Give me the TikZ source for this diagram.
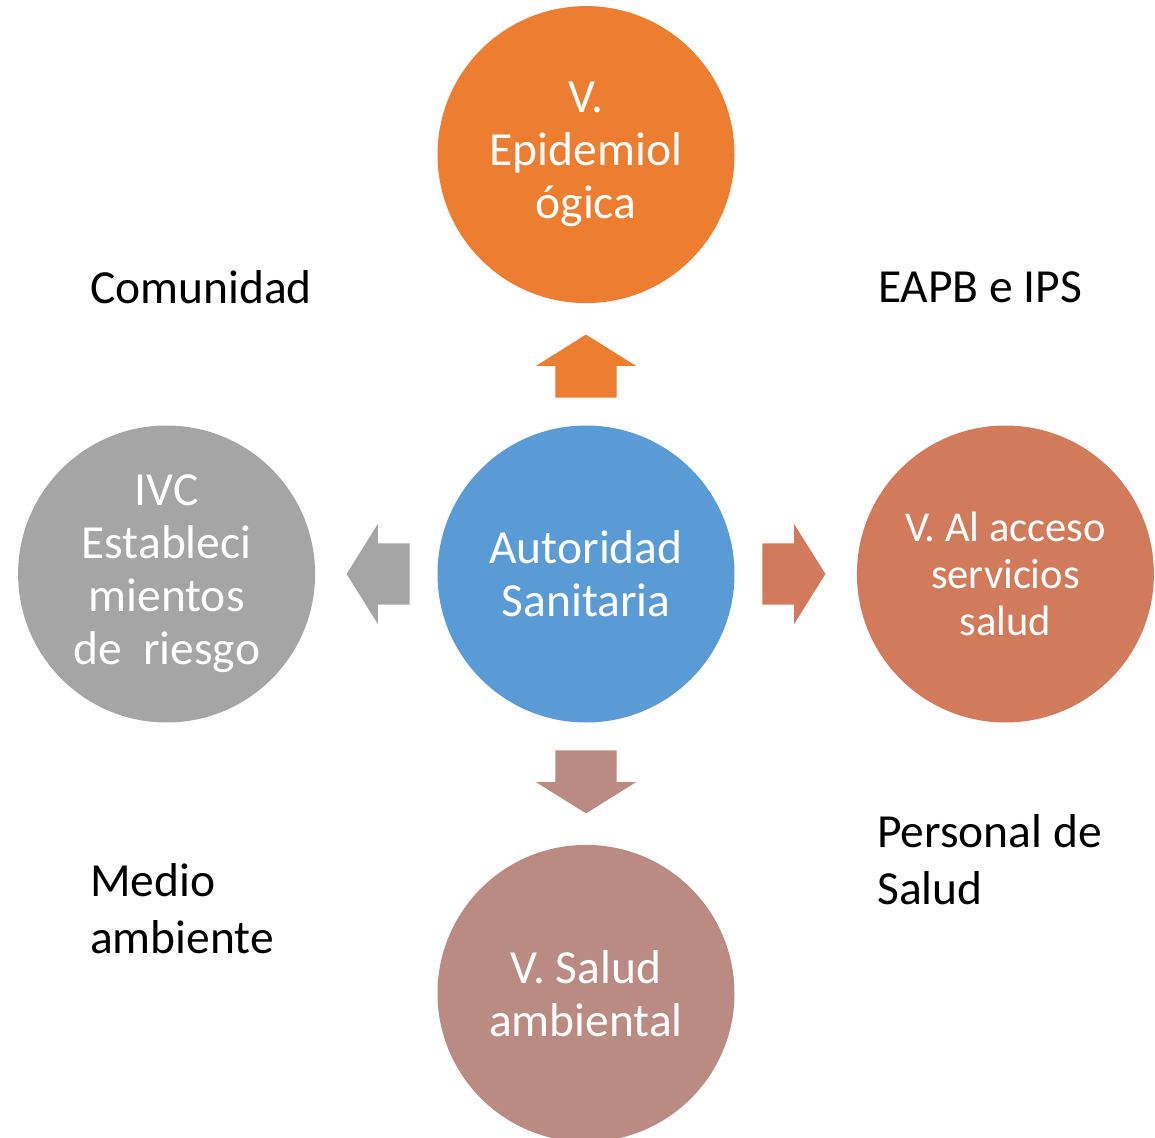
\documentclass[tikz,border=0pt]{standalone}
\usepackage{fontspec}
\setmainfont{Carlito}
\usetikzlibrary{positioning,shapes.arrows,calc}
\definecolor{epiorange}{RGB}{237,125,49}
\definecolor{authblue}{RGB}{91,155,213}
\definecolor{ivcgray}{RGB}{165,165,165}
\definecolor{accesored}{RGB}{210,123,92}
\definecolor{ambrose}{RGB}{186,139,130}

\begin{document}
\begin{tikzpicture}[
  x=1pt, y=1pt,
  node distance=122pt,
  bubble/.style={circle, minimum size=297pt, inner sep=0pt, align=center, text=white, font=\fontsize{47.5}{53}\selectfont},
  blockarr/.style={single arrow, anchor=tail, minimum height=63pt, inner xsep=0pt, inner ysep=30.5pt, single arrow head extend=19.5pt, single arrow tip angle=116},
  vblockarr/.style={blockarr, inner xsep=30.5pt, inner ysep=0pt},
  lbl/.style={anchor=west, align=left, inner sep=0pt, font=\fontsize{47.5}{57}\selectfont}
]
\useasboundingbox (-586,-563) rectangle (569,574);
\node[bubble, fill=authblue] (auth) {Autoridad\\Sanitaria};
\node[bubble, fill=epiorange, above=of auth] (epi) {V.\\Epidemiol\\ógica};
\node[bubble, fill=ivcgray, left=of auth] (ivc) {IVC\\Estableci\\mientos\\de~~riesgo};
\node[bubble, fill=accesored, right=of auth, font=\fontsize{42.5}{47}\selectfont] (acceso) {V. Al acceso\\servicios\\salud};
\node[bubble, fill=ambrose, below=of auth] (amb) {V. Salud\\ambiental};
% flechas
\node[vblockarr, fill=epiorange, shape border rotate=90] (uparr) at ($(auth.north)+(0,27.5)$) {};
\node[blockarr, fill=ivcgray, shape border rotate=180] (leftarr) at ($(auth.west)+(-27.5,0)$) {};
\node[blockarr, fill=accesored] (rightarr) at ($(auth.east)+(27.5,0)$) {};
\node[vblockarr, fill=ambrose, shape border rotate=270] (downarr) at ($(auth.south)+(0,-27.5)$) {};
% actores
\node[lbl] (comu) at (-496,287) {Comunidad};
\node[lbl] (eapb) at (292,287) {EAPB e IPS};
\node[lbl] (medio) at (-496,-334.5) {Medio\\ambiente};
\node[lbl] (pers) at (291,-285.5) {Personal de\\Salud};
\end{tikzpicture}
\end{document}
